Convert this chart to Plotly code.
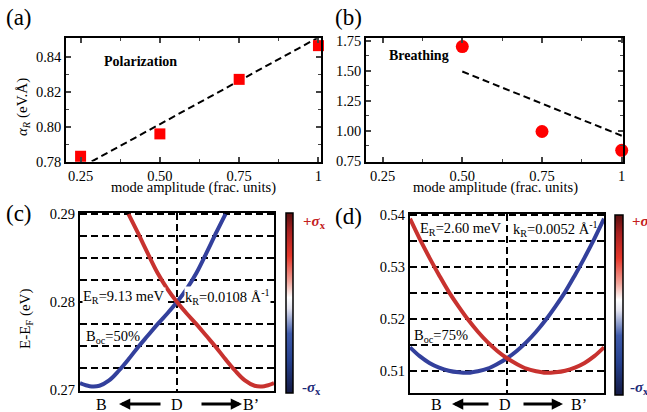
import plotly.graph_objects as go

W, H = 647, 412

# ---------------- data ----------------
# (a) Polarization mode
amp_a = [0.25, 0.50, 0.75, 1.00]
alpha_a = [0.783, 0.7958, 0.827, 0.8463]
fit_a_x = [0.285, 1.00]
fit_a_y = [0.780, 0.851]

# (b) Breathing mode
amp_b = [0.50, 0.75, 1.00]
alpha_b = [1.703, 0.995, 0.838]
fit_b_x = [0.50, 1.00]
fit_b_y = [1.495, 0.960]

# (c) bands, B_oc = 50 %
k_c_blue = [-1.0, -0.9, -0.8, -0.7, -0.6, -0.5, -0.4, -0.3, -0.2, -0.1, 0.0, 0.1, 0.2, 0.3, 0.4, 0.5]
E_c_blue = [0.2708, 0.27045, 0.2705, 0.2711, 0.2722, 0.2735, 0.2749, 0.2762, 0.2775, 0.2787,
            0.2800, 0.2815, 0.2833, 0.2855, 0.2878, 0.2900]
k_c_red = [1.0, 0.9, 0.8, 0.7, 0.6, 0.5, 0.4, 0.3, 0.2, 0.1, 0.0, -0.1, -0.2, -0.3, -0.4, -0.5]
E_c_red = [0.2708, 0.27045, 0.2705, 0.2711, 0.2722, 0.2735, 0.2749, 0.2762, 0.2775, 0.2787,
           0.2800, 0.2815, 0.2833, 0.2855, 0.2878, 0.2900]

# (d) bands, B_oc = 75 %
k_d_red = [-1.0, -0.9, -0.8, -0.7, -0.6, -0.5, -0.4, -0.3, -0.2, -0.1, 0.0,
           0.1, 0.2, 0.3, 0.4, 0.5, 0.6, 0.7, 0.8, 0.9, 1.0]
E_d_red = [0.5393, 0.5354, 0.5318, 0.5284, 0.5252, 0.5224, 0.5198, 0.5175, 0.5155, 0.5138, 0.5124,
           0.5113, 0.5104, 0.5099, 0.5096, 0.5097, 0.5100, 0.5106, 0.5115, 0.5128, 0.5145]
k_d_blue = [1.0, 0.9, 0.8, 0.7, 0.6, 0.5, 0.4, 0.3, 0.2, 0.1, 0.0,
            -0.1, -0.2, -0.3, -0.4, -0.5, -0.6, -0.7, -0.8, -0.9, -1.0]
E_d_blue = [0.5393, 0.5354, 0.5318, 0.5284, 0.5252, 0.5224, 0.5198, 0.5175, 0.5155, 0.5138, 0.5124,
            0.5113, 0.5104, 0.5099, 0.5096, 0.5097, 0.5100, 0.5106, 0.5115, 0.5128, 0.5145]

path_labels = ["B", "D", "B’"]
spin_labels = ["+σ", "-σ"]

# ---------------- styling helpers ----------------
FONT = "Liberation Serif"
RED = "#c8322f"
BLUE = "#33409c"
CSCALE = [[0.0, "#141a44"], [0.18, "#26418f"], [0.33, "#3f5bab"], [0.47, "#e4e4f0"],
          [0.53, "#ffffff"], [0.62, "#f2a49a"], [0.76, "#e6372b"], [0.9, "#a82020"], [1.0, "#5a1010"]]


def dx(px):
    return px / W


def dy(py):
    return 1 - py / H


fig = go.Figure()

# (a)
fig.add_trace(go.Scatter(x=fit_a_x, y=fit_a_y, mode="lines", xaxis="x", yaxis="y",
                         line=dict(color="black", width=2, dash="7px,4px"), showlegend=False))
fig.add_trace(go.Scatter(x=amp_a, y=alpha_a, mode="markers", xaxis="x", yaxis="y", cliponaxis=False,
                         marker=dict(symbol="square", size=11, color="#ff0000"), showlegend=False))
# (b)
fig.add_trace(go.Scatter(x=fit_b_x, y=fit_b_y, mode="lines", xaxis="x2", yaxis="y2",
                         line=dict(color="black", width=2, dash="7px,4px"), showlegend=False))
fig.add_trace(go.Scatter(x=amp_b, y=alpha_b, mode="markers", xaxis="x2", yaxis="y2", cliponaxis=False,
                         marker=dict(symbol="circle", size=13, color="#ff0000"), showlegend=False))
# (c)
fig.add_trace(go.Scatter(x=k_c_blue, y=E_c_blue, mode="lines", xaxis="x3", yaxis="y3", line_shape="spline",
                         line=dict(color=BLUE, width=4), showlegend=False))
fig.add_trace(go.Scatter(x=k_c_red, y=E_c_red, mode="lines", xaxis="x3", yaxis="y3", line_shape="spline",
                         line=dict(color=RED, width=4), showlegend=False))
# (d)
fig.add_trace(go.Scatter(x=k_d_blue, y=E_d_blue, mode="lines", xaxis="x4", yaxis="y4", line_shape="spline",
                         line=dict(color=BLUE, width=4), showlegend=False))
fig.add_trace(go.Scatter(x=k_d_red, y=E_d_red, mode="lines", xaxis="x4", yaxis="y4", line_shape="spline",
                         line=dict(color=RED, width=4), showlegend=False))


def cbar_trace(xa, ya, x0, y_bottom, length, thick, yval):
    return go.Scatter(x=[0], y=[yval], mode="markers", xaxis=xa, yaxis=ya, showlegend=False,
                      hoverinfo="skip",
                      marker=dict(size=1, color=[0], cmin=-1, cmax=1, colorscale=CSCALE, showscale=True,
                                  colorbar=dict(x=dx(x0), xanchor="left", y=dy(y_bottom), yanchor="bottom",
                                                len=length, lenmode="pixels", thickness=thick,
                                                thicknessmode="pixels", xpad=0, ypad=0,
                                                outlinewidth=1.5, outlinecolor="black",
                                                showticklabels=False, ticks="")))


fig.add_trace(cbar_trace("x3", "y3", 286, 393, 180, 7, -1))
fig.add_trace(cbar_trace("x4", "y4", 615, 395, 180, 8, 0))

frame = dict(showline=True, linecolor="black", linewidth=1.5, mirror=True, zeroline=False, automargin=False)
tickfont_ab = dict(family=FONT, size=14.5, color="black")
tickfont_cd = dict(family=FONT, size=14.5, color="black")
GD = "7px,4px"

layout_axes = dict(
    xaxis=dict(domain=[dx(66), dx(321)], range=[0.204, 1.008], anchor="y", showgrid=False,
               tick0=0.25, dtick=0.25, labelalias={"0.5": "0.50"}, ticks="inside", ticklen=5, tickwidth=1.5,
               tickfont=tickfont_ab, minor=dict(dtick=0.125, ticks="inside", ticklen=3, tickwidth=1.2),
               **{**frame, "mirror": "allticks"}),
    yaxis=dict(domain=[dy(161.5), dy(38.3)], range=[0.78, 0.8505], anchor="x", showgrid=False,
               tick0=0.78, dtick=0.02, tickformat=".2f", ticks="inside", ticklen=5, tickwidth=1.5,
               tickfont=tickfont_ab, minor=dict(dtick=0.01, ticks="inside", ticklen=3, tickwidth=1.2),
               **{**frame, "mirror": "allticks"}),
    xaxis2=dict(domain=[dx(366), dx(623)], range=[0.198, 1.004], anchor="y2", showgrid=False,
                tick0=0.25, dtick=0.25, labelalias={"0.5": "0.50"}, ticks="inside", ticklen=5, tickwidth=1.5,
                tickfont=tickfont_ab, minor=dict(dtick=0.125, ticks="inside", ticklen=3, tickwidth=1.2),
                **{**frame, "mirror": "allticks"}),
    yaxis2=dict(domain=[dy(161.5), dy(38.3)], range=[0.745, 1.772], anchor="x2", showgrid=False,
                tick0=0.75, dtick=0.25, tickformat=".2f", ticks="inside", ticklen=5, tickwidth=1.5,
                tickfont=tickfont_ab, minor=dict(dtick=0.125, ticks="inside", ticklen=3, tickwidth=1.2),
                **{**frame, "mirror": "allticks"}),
    xaxis3=dict(domain=[dx(80), dx(274)], range=[-1, 1], anchor="y3", tickvals=[0], showticklabels=False,
                ticks="", showgrid=True, gridcolor="black", griddash=GD, gridwidth=1.5,
                **{**frame, "linewidth": 2}),
    yaxis3=dict(domain=[dy(391), dy(213)], range=[0.2699, 0.29012], anchor="x3", tick0=0.27, dtick=0.01,
                tickformat=".2f", ticks="", tickfont=tickfont_cd, showgrid=True, gridcolor="black",
                griddash=GD, gridwidth=1.5,
                minor=dict(dtick=0.0025, showgrid=True, gridcolor="black", griddash=GD, gridwidth=1.5),
                **{**frame, "linewidth": 2}),
    xaxis4=dict(domain=[dx(410), dx(604)], range=[-1, 1], anchor="y4", tickvals=[0], showticklabels=False,
                ticks="", showgrid=True, gridcolor="black", griddash=GD, gridwidth=1.5,
                **{**frame, "linewidth": 2}),
    yaxis4=dict(domain=[dy(393), dy(214)], range=[0.5057, 0.5402], anchor="x4", tick0=0.51, dtick=0.01,
                tickformat=".2f", ticks="", tickfont=tickfont_cd, showgrid=True, gridcolor="black",
                griddash=GD, gridwidth=1.5,
                minor=dict(dtick=0.005, showgrid=True, gridcolor="black", griddash=GD, gridwidth=1.5),
                **{**frame, "linewidth": 2}),
)


def ann(text, px, py, size, xanchor="center", color="black", textangle=0, bg=None):
    d = dict(text=text, x=dx(px), y=dy(py), xref="paper", yref="paper", showarrow=False,
             xanchor=xanchor, yanchor="middle", textangle=textangle,
             font=dict(family=FONT, size=size, color=color))
    if bg:
        d.update(bgcolor=bg, borderpad=0)
    return d


def arrow(head_px, tail_px, py):
    return dict(x=dx(head_px), y=dy(py), xref="paper", yref="paper", ax=tail_px - head_px, ay=0,
                axref="pixel", ayref="pixel", showarrow=True, arrowhead=2, arrowwidth=3,
                arrowsize=0.75, arrowcolor="black", text="")


annotations = [
    ann("(a)", 19, 18, 23), ann("(b)", 348, 18, 23), ann("(c)", 19, 213, 23), ann("(d)", 348, 216, 23),
    ann("<i>α<sub>R</sub></i> (eV.Å)", 23, 107, 15, textangle=-90),
    ann("mode amplitude (frac. units)", 193, 187.5, 14.5),
    ann("mode amplitude (frac. units)", 495, 187.5, 14.5),
    ann("<b>Polarization</b>", 140, 61, 14),
    ann("<b>Breathing</b>", 419, 56, 14),
    ann("E-E<sub>F</sub> (eV)", 26, 319, 15, textangle=-90),
    ann("E<sub>R</sub>=9.13 meV", 82, 297, 14.5, xanchor="left", bg="white"),
    ann("k<sub>R</sub>=0.0108 Å<sup>-1</sup>", 184, 297, 14.5, xanchor="left", bg="white"),
    ann("B<sub>oc</sub>=50%", 84, 337, 14.5, xanchor="left"),
    ann("E<sub>R</sub>=2.60 meV", 418, 229, 14.5, xanchor="left"),
    ann("k<sub>R</sub>=0.0052 Å<sup>-1</sup>", 511, 229, 14.5, xanchor="left"),
    ann("B<sub>oc</sub>=75%", 412, 336, 14.5, xanchor="left"),
    ann(f"<b>{spin_labels[0][0]}<i>{spin_labels[0][1]}</i><sub>x</sub></b>", 301, 222, 15, xanchor="left",
        color="#c4201c"),
    ann(f"<b>{spin_labels[1][0]}<i>{spin_labels[1][1]}</i><sub>x</sub></b>", 300, 388, 15, xanchor="left",
        color="#1c2a78"),
    ann(f"<b>{spin_labels[0][0]}<i>{spin_labels[0][1]}</i><sub>x</sub></b>", 630, 222, 15, xanchor="left",
        color="#c4201c"),
    ann(f"<b>{spin_labels[1][0]}<i>{spin_labels[1][1]}</i><sub>x</sub></b>", 628, 388, 15, xanchor="left",
        color="#1c2a78"),
    ann(path_labels[0], 102, 404, 16), ann(path_labels[1], 177, 404, 16), ann(path_labels[2], 251, 404, 16),
    ann(path_labels[0], 436, 404, 16), ann(path_labels[1], 505, 404, 16), ann(path_labels[2], 579, 404, 16),
    arrow(119, 162, 404), arrow(242, 200, 404),
    arrow(452, 490, 404), arrow(563, 522, 404),
]

fig.update_layout(template="none", width=W, height=H,
                  margin=dict(l=0, r=0, t=0, b=0, pad=0, autoexpand=False),
                  paper_bgcolor="white", plot_bgcolor="white",
                  font=dict(family=FONT, color="black"), showlegend=False,
                  annotations=annotations, **layout_axes)

fig.write_html("out.html", config={"displayModeBar": False},
               post_script="document.body.style.margin='0px';document.body.style.overflow='hidden';")
